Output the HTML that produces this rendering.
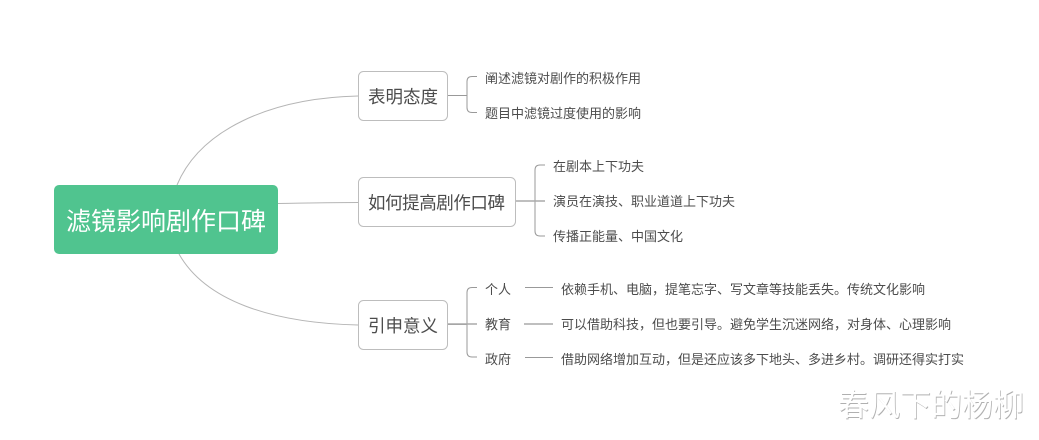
<!DOCTYPE html>
<html>
<head>
<meta charset="utf-8">
<style>
html,body{margin:0;padding:0;background:#fff}
body{width:1039px;height:440px;overflow:hidden}
svg{display:block}
text{font-family:"Liberation Sans","Noto Sans CJK SC","WenQuanYi Zen Hei",sans-serif;fill:#4c4c4c}
.s{font-size:13px}
.m{font-size:17.5px}
</style>
</head>
<body>
<svg width="1039" height="440" viewBox="0 0 1039 440" xmlns="http://www.w3.org/2000/svg">
<rect width="1039" height="440" fill="#fff"/>
<g fill="none" stroke="#b5b5b5" stroke-width="1">
<path d="M177 185C200 130 270 98 358 96"/>
<path d="M278 203.500C310 203 330 202.500 358 202.500"/>
<path d="M179 254C205 300 270 323 358 325"/>
</g>
<g fill="none" stroke="#999" stroke-width="1">
<path d="M448 95.500H467"/>
<path d="M477 76.500H472Q467 76.500 467 81.500V107.500Q467 112.500 472 112.500H477"/>
<path d="M516 201H535"/>
<path d="M545 165H540Q535 165 535 170V231Q535 236 540 236H545"/>
<path d="M448 324.500H467"/>
<path d="M477 287.500H472Q467 287.500 467 292.500V352Q467 357 472 357H477"/>
<path d="M525 287.500H553M525 357.500H553"/>
</g>
<g fill="none" stroke="#aaa" stroke-width="1.600">
<path d="M516 201H545"/>
<path d="M448 324H477"/>
<path d="M524 324H553"/>
</g>
<rect x="54" y="185" width="224" height="69" rx="5" fill="#50c48f"/>
<g fill="#fff" stroke="#bdbdbd" stroke-width="1">
<rect x="358.500" y="71.500" width="89" height="49" rx="5"/>
<rect x="358.500" y="177.500" width="157" height="49" rx="5"/>
<rect x="358.500" y="300.500" width="89" height="49" rx="5"/>
</g>
<text x="66" y="230" font-size="25" style="fill:#fff">滤镜影响剧作口碑</text>
<text x="368" y="103" class="m">表明态度</text>
<text x="368" y="209" class="m" textLength="137">如何提高剧作口碑</text>
<text x="368" y="332" class="m">引申意义</text>
<text x="485" y="83" class="s">阐述滤镜对剧作的积极作用</text>
<text x="485" y="118" class="s">题目中滤镜过度使用的影响</text>
<text x="553" y="171" class="s">在剧本上下功夫</text>
<text x="553" y="206" class="s">演员在演技、职业道道上下功夫</text>
<text x="553" y="241" class="s">传播正能量、中国文化</text>
<text x="485" y="294" class="s">个人</text>
<text x="485" y="329" class="s">教育</text>
<text x="485" y="364" class="s">政府</text>
<text x="561" y="294" class="s">依赖手机、电脑，提笔忘字、写文章等技能丢失。传统文化影响</text>
<text x="561" y="329" class="s">可以借助科技，但也要引导。避免学生沉迷网络，对身体、心理影响</text>
<text x="561" y="364" class="s">借助网络增加互动，但是还应该多下地头、多进乡村。调研还得实打实</text>
<text x="838.800" y="416.800" font-size="31" style="fill:#b0b0b0">春风下的杨柳</text>
<text x="838" y="416" font-size="31" style="fill:#fff">春风下的杨柳</text>
</svg>
</body>
</html>
